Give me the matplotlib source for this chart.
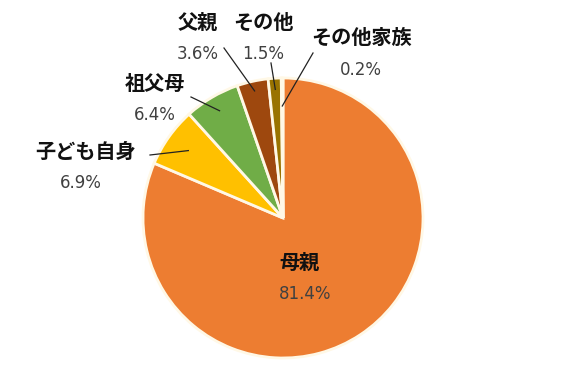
import numpy as np
import matplotlib.pyplot as plt

plt.rcParams['font.family'] = ['Noto Sans CJK JP', 'DejaVu Sans']

labels = ['母親', '子ども自身', '祖父母', '父親', 'その他', 'その他家族']
values = [81.4, 6.9, 6.4, 3.6, 1.5, 0.2]
pct_text = ['81.4%', '6.9%', '6.4%', '3.6%', '1.5%', '0.2%']
colors = ['#ED7D31', '#FFC000', '#70AD47', '#9E480E', '#997300', '#7F7F7F']

W, H = 567, 378
fig = plt.figure(figsize=(W / 100, H / 100), dpi=100)
ax = fig.add_axes([0, 0, 1, 1])

cx, cy, R = 283, H - 218, 140
wedges, _ = ax.pie(values, colors=colors, startangle=90, counterclock=False,
                   center=(cx, cy), radius=R, frame=True,
                   wedgeprops=dict(edgecolor='#FFF8E6', linewidth=2))
ax.set_xlim(0, W)
ax.set_ylim(0, H)
ax.set_aspect('equal')
ax.axis('off')

# label positions in pixels from top-left (name, pct) and leader line outer end
name_pos = [(300, 262), (86, 151), (155, 83), (198, 22), (263, 22), (362, 37)]
pct_pos = [(305, 294), (81, 183), (155, 115), (198, 54), (263, 54), (361, 70)]
line_out = [None, (150, 155), (191, 97), (224, 48), (271, 63), (313, 53)]
line_r = [None, 0.83, 0.89, 0.93, 0.92, 0.8]

for i, w in enumerate(wedges):
    nx, ny = name_pos[i]
    px, py = pct_pos[i]
    ax.text(nx, H - ny, labels[i], ha='center', va='center', fontsize=14.5,
            fontweight='bold', color='#111111')
    ax.text(px, H - py, pct_text[i], ha='center', va='center', fontsize=12,
            color='#404040', family='DejaVu Sans')
    if line_out[i] is not None:
        ang = np.deg2rad((w.theta1 + w.theta2) / 2)
        x0 = cx + line_r[i] * R * np.cos(ang)
        y0 = cy + line_r[i] * R * np.sin(ang)
        ox, oy = line_out[i]
        ax.plot([ox, x0], [H - oy, y0], color='#222222', linewidth=0.9)

fig.savefig('out.png', dpi=100)
